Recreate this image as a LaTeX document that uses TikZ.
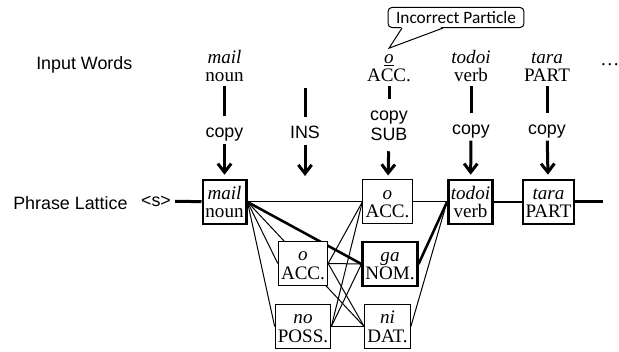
\documentclass[tikz,border=0pt]{standalone}
\usepackage{fontspec}
\setmainfont{Liberation Serif}
\setsansfont{Liberation Sans}
\newfontfamily\notefont{Carlito}
\usetikzlibrary{arrows.meta, backgrounds}

% word in a lattice box: surface form over its tag
\newcommand{\lword}[2]{\textit{#1}\vphantom{Al}\\#2}

\begin{document}
\begin{tikzpicture}[x=0.75pt, y=0.75pt,
    rowname/.style={font=\sffamily\fontsize{13.4}{16}\selectfont, inner sep=0pt},
    word/.style={font=\fontsize{14.3}{13.9}\selectfont, align=center, inner sep=1pt, outer sep=2pt},
    op/.style={font=\sffamily\fontsize{13.4}{16}\selectfont, inner sep=0pt, text height=16pt, text depth=4pt},
    lat/.style={draw, fill=white, line width=0.75pt, font=\fontsize{14.3}{13.9}\selectfont,
      align=center, inner xsep=2pt, inner ysep=0pt, minimum height=33pt},
    best/.style={lat, line width=1.9pt},
    feed/.style={line width=2.25pt},
    into/.style={feed, -{Straight Barb[length=6.5pt, width=10pt]}, shorten >=3pt},
    link/.style={line width=0.75pt},
    bestlink/.style={line width=1.9pt}]
  \useasboundingbox (0,0) rectangle (619,352);

  % --- row names ---
  \node[rowname, anchor=west] (rowIn) at (36,287) {Input Words};
  \node[rowname, anchor=west] (rowLat) at (13,149) {Phrase Lattice};
  \node[rowname, inner xsep=3pt] (bos) at (156,151) {<s>};

  % --- input words ---
  \node[word, anchor=south] (wMail) at (224.5,266) {\textit{mail}\\noun};
  \node[word, anchor=south] (wAcc) at (389,266) {\underline{\textit{o}}\\ACC.};
  \node[word, anchor=south] (wTodoi) at (471,266) {\textit{todoi}\\verb};
  \node[word, anchor=south] (wTara) at (547,266) {\textit{tara}\\PART};
  \node[word, anchor=base] (more) at (610,286) {\dots};

  % --- callout ---
  \node[draw, line width=0.75pt, rounded corners=3pt, font=\notefont\fontsize{13}{15}\selectfont,
    inner xsep=6pt, inner ysep=3pt] (note) at (456,334.5) {Incorrect Particle};
  \coordinate (tailA) at ([xshift=-40.5pt, yshift=0.5pt]note.south);
  \coordinate (tailB) at ([xshift=-9.75pt, yshift=0.5pt]note.south);
  \coordinate (tip) at ([yshift=1.5pt]wAcc.north);
  \fill[white] ([yshift=0.6pt]tailA) -- (tip) -- ([yshift=0.6pt]tailB) -- cycle;
  \draw[line width=0.75pt] ([yshift=-0.5pt]tailA) -- (tip) -- ([yshift=-0.5pt]tailB);

  % --- edit operations ---
  \node[op, anchor=base] (opMail) at (224.5,214) {copy};
  \node[op, anchor=base] (opIns) at (305,213) {INS};
  \node[op, anchor=base] (opAcc) at (389,231) {copy};
  \node[op, anchor=base, text depth=7.5pt] (opSub) at (389,211) {SUB};
  \node[op, anchor=base] (opTodoi) at (471,217) {copy};
  \node[op, anchor=base] (opTara) at (547,217) {copy};
  \coordinate (insTop) at (305,264);
  \coordinate (insEnd) at (305,172);

  % --- lattice ---
  \node[best] (mail) at (224.5,150) {\lword{mail}{noun}};
  \node[lat] (accT) at (387.5,150) {\lword{o}{ACC.}};
  \node[best] (nom) at (390,88) {\lword{ga}{NOM.}};
  \node[lat] (dat) at (387.5,25.5) {\lword{ni}{DAT.}};
  \node[lat] (accL) at (303,88.5) {\lword{o}{ACC.}};
  \node[lat] (poss) at (303,25.5) {\lword{no}{POSS.}};
  \node[best] (todoi) at (470.5,150) {\lword{todoi}{verb}};
  \node[best] (tara) at (548.5,150) {\lword{tara}{PART}};
  \coordinate (latEnd) at (603,150);

  % arrows from words to lattice
  \draw[feed] (wMail) -- (opMail);
  \draw[into] (opMail) -- (mail);
  \draw[feed] (insTop) -- (opIns);
  \draw[into] (opIns) -- (insEnd);
  \draw[feed] (wAcc) -- (opAcc);
  \draw[into] (opSub) -- (accT);
  \draw[feed] (wTodoi) -- (opTodoi);
  \draw[into] (opTodoi) -- (todoi);
  \draw[feed] (wTara) -- (opTara);
  \draw[into] (opTara) -- (tara);

  % lattice edges
  \begin{scope}[on background layer]
    \draw[feed] (bos) -- (mail);
    \draw[link] (mail.east) -- (accT.west);
    \draw[link] (mail.east) -- (accL.west);
    \draw[link] (mail.east) -- (poss.west);
    \draw[link] (mail.east) -- (dat.west);
    \draw[bestlink] (mail.east) -- (nom.west);
    \foreach \src in {accL, poss} {
      \draw[link] (\src.east) -- (accT.west);
      \draw[link] (\src.east) -- (nom.west);
      \draw[link] (\src.east) -- (dat.west);
    }
    \draw[link] (accT.east) -- (todoi.west);
    \draw[link] (dat.east) -- (todoi.west);
    \draw[bestlink] (nom.east) -- (todoi.west);
    \draw[line width=1.5pt] (todoi) -- (tara);
    \draw[feed] (tara) -- (latEnd);
  \end{scope}
\end{tikzpicture}
\end{document}
